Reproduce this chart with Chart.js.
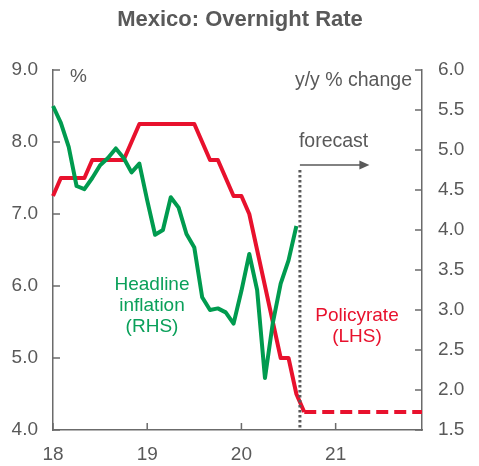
<!DOCTYPE html>
<html>
<head>
<meta charset="utf-8">
<script src="https://cdn.jsdelivr.net/npm/chart.js@4/dist/chart.umd.min.js"></script>
<style>
html,body{margin:0;padding:0;background:#fff;}
#wrap{width:479px;height:466px;position:relative;}
</style>
</head>
<body>
<div id="wrap"><canvas id="c" width="479" height="466"></canvas></div>
<script>
const months = ['Jan-18','Feb-18','Mar-18','Apr-18','May-18','Jun-18','Jul-18','Aug-18','Sep-18','Oct-18','Nov-18','Dec-18',
  'Jan-19','Feb-19','Mar-19','Apr-19','May-19','Jun-19','Jul-19','Aug-19','Sep-19','Oct-19','Nov-19','Dec-19',
  'Jan-20','Feb-20','Mar-20','Apr-20','May-20','Jun-20','Jul-20','Aug-20','Sep-20','Oct-20','Nov-20','Dec-20',
  'Jan-21','Feb-21','Mar-21','Apr-21','May-21','Jun-21','Jul-21','Aug-21','Sep-21','Oct-21','Nov-21','Dec-21'];
const yearTickLabels = {0:'18', 12:'19', 24:'20', 36:'21'};

const policyRate = [7.25,7.5,7.5,7.5,7.5,7.75,7.75,7.75,7.75,7.75,8.0,8.25,
  8.25,8.25,8.25,8.25,8.25,8.25,8.25,8.0,7.75,7.75,7.5,7.25,
  7.25,7.0,6.5,6.0,5.5,5.0,5.0,4.5,4.25];
const policyRateForecast = [null,null,null,null,null,null,null,null,null,null,null,null,
  null,null,null,null,null,null,null,null,null,null,null,null,
  null,null,null,null,null,null,null,null,4.25,4.25,4.25,4.25,
  4.25,4.25,4.25,4.25,4.25,4.25,4.25,4.25,4.25,4.25,4.25,4.25];
const headlineInflation = [5.55,5.34,5.04,4.55,4.51,4.65,4.81,4.90,5.02,4.90,4.72,4.83,
  4.37,3.94,4.00,4.41,4.28,3.95,3.78,3.16,3.00,3.02,2.97,2.83,
  3.24,3.70,3.25,2.15,2.84,3.33,3.62,4.05];
const forecastStart = 31.45;   // month index where forecast begins
const forecastArrowEnd = 40.3; // month index
const forecastLevel = 7.68;    // LHS value for arrow

const RED = '#E8112D', GREEN = '#009B4F', GRAY = '#595959', AXIS = '#6b6b6b';
const FONT = '"Liberation Sans", Arial, sans-serif';

const decor = {
  id: 'decor',
  afterDraw(chart) {
    const ctx = chart.ctx, x = chart.scales.x, y = chart.scales.y, y1 = chart.scales.y1;
    const a = chart.chartArea;
    ctx.save();
    // inward tick marks
    ctx.strokeStyle = AXIS; ctx.lineWidth = 1.5;
    ctx.beginPath();
    y.ticks.forEach(t => { const p = y.getPixelForValue(t.value); ctx.moveTo(a.left, p); ctx.lineTo(a.left + 7, p); });
    y1.ticks.forEach(t => { const p = y1.getPixelForValue(t.value); ctx.moveTo(a.right, p); ctx.lineTo(a.right - 7, p); });
    Object.keys(yearTickLabels).forEach(i => { const p = x.getPixelForValue(+i); ctx.moveTo(p, a.bottom); ctx.lineTo(p, a.bottom - 7); });
    ctx.stroke();
    // forecast dotted line
    const fx = x.getPixelForValue(forecastStart);
    const fy = y.getPixelForValue(forecastLevel);
    ctx.strokeStyle = GRAY; ctx.lineWidth = 3; ctx.setLineDash([2.5, 2.5]);
    ctx.beginPath(); ctx.moveTo(fx, fy + 5); ctx.lineTo(fx, a.bottom); ctx.stroke();
    ctx.setLineDash([]);
    // arrow
    const ax = x.getPixelForValue(forecastArrowEnd);
    ctx.lineWidth = 1.5;
    ctx.beginPath(); ctx.moveTo(fx, fy); ctx.lineTo(ax - 9, fy); ctx.stroke();
    ctx.fillStyle = GRAY;
    ctx.beginPath(); ctx.moveTo(ax, fy); ctx.lineTo(ax - 10, fy - 4.5); ctx.lineTo(ax - 10, fy + 4.5); ctx.closePath(); ctx.fill();
    // texts
    ctx.textBaseline = 'middle';
    ctx.font = 'bold 22px ' + FONT; ctx.fillStyle = GRAY; ctx.textAlign = 'center';
    ctx.fillText('Mexico: Overnight Rate', 240, 20);
    ctx.font = '19px ' + FONT;
    ctx.textAlign = 'left';
    ctx.fillText('%', 70, 77);
    ctx.font = '19.5px ' + FONT;
    ctx.fillText('forecast', fx - 1, 142);
    ctx.textAlign = 'right';
    ctx.fillText('y/y % change', 412, 81);
    ctx.font = '19px ' + FONT;
    ctx.textAlign = 'center';
    ctx.fillStyle = '#0AA05A';
    ctx.fillText('Headline', 152, 285);
    ctx.fillText('inflation', 152, 306);
    ctx.fillText('(RHS)', 152, 327);
    ctx.fillStyle = RED;
    ctx.fillText('Policyrate', 357, 316);
    ctx.fillText('(LHS)', 357, 337);
    ctx.restore();
  }
};

new Chart(document.getElementById('c'), {
  type: 'line',
  data: {
    labels: months,
    datasets: [
      { label: 'Policy rate', data: policyRate, yAxisID: 'y', borderColor: RED, borderWidth: 4, pointRadius: 0, tension: 0, borderJoinStyle: 'round', order: 2 },
      { label: 'Policy rate forecast', data: policyRateForecast, yAxisID: 'y', borderColor: RED, borderWidth: 4, borderDash: [12, 6], pointRadius: 0, tension: 0, order: 2 },
      { label: 'Headline inflation', data: headlineInflation, yAxisID: 'y1', borderColor: GREEN, borderWidth: 4, pointRadius: 0, tension: 0, borderJoinStyle: 'round', order: 1 }
    ]
  },
  options: {
    responsive: false,
    animation: false,
    devicePixelRatio: 1,
    layout: { padding: { top: 70, left: 0, right: 0, bottom: 0 } },
    plugins: { legend: { display: false }, title: { display: false }, tooltip: { enabled: false } },
    scales: {
      x: {
        type: 'category',
        offset: false,
        grid: { display: true, drawOnChartArea: false, drawTicks: false },
        border: { display: true, color: AXIS, width: 1.5 },
        ticks: {
          autoSkip: false, maxRotation: 0, padding: 13,
          color: GRAY, font: { family: FONT, size: 19 },
          callback: (v, i) => (yearTickLabels[i] !== undefined ? yearTickLabels[i] : '')
        },
        afterFit: s => { s.height = 36; }
      },
      y: {
        position: 'left', min: 4, max: 9,
        grid: { drawOnChartArea: false, drawTicks: false },
        border: { display: true, color: AXIS, width: 1.5 },
        ticks: { stepSize: 1, padding: 15, color: GRAY, font: { family: FONT, size: 19 }, callback: v => v.toFixed(1) },
        afterFit: s => { s.width = 53; }
      },
      y1: {
        position: 'right', min: 1.5, max: 6,
        grid: { drawOnChartArea: false, drawTicks: false },
        border: { display: true, color: AXIS, width: 1.5 },
        ticks: { stepSize: 0.5, padding: 16, color: GRAY, font: { family: FONT, size: 19 }, callback: v => v.toFixed(1) },
        afterFit: s => { s.width = 57; }
      }
    }
  },
  plugins: [decor]
});
</script>
</body>
</html>
